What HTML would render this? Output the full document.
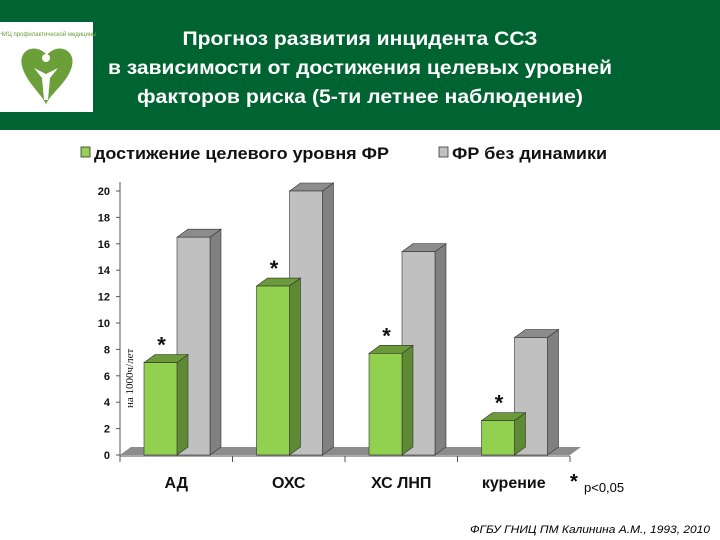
<!DOCTYPE html>
<html><head><meta charset="utf-8">
<style>
body{margin:0;background:#fff;}
svg{display:block;font-family:"Liberation Sans",Arial,sans-serif;}
</style></head>
<body>
<svg id="c" width="720" height="540" viewBox="0 0 720 540" xmlns="http://www.w3.org/2000/svg">
<rect x="0" y="0" width="720" height="130" fill="#006432"/>
<g>
<rect x="0" y="22" width="93" height="90" fill="#fff"/>
<path d="M47 55 C35 42,18 50,22 66 C26 82,40 92,46 104 C52 92,68 82,72 66 C76 50,58 42,47 55Z" fill="#6a9f3a"/>
<circle cx="46" cy="58" r="4" fill="#fff"/>
<path d="M34 68 L46 74 L58 68 L50 78 L48 100 L44 100 L42 78Z" fill="#fff"/>
<text x="46" y="36" font-size="6" fill="#6a9f3a" text-anchor="middle">ГНИЦ профилактической медицины</text>
</g>
<g fill="#fff" font-size="19" font-weight="bold" text-anchor="middle">
<text x="360" y="45" textLength="355" lengthAdjust="spacingAndGlyphs">Прогноз  развития  инцидента ССЗ</text>
<text x="360" y="74" textLength="504" lengthAdjust="spacingAndGlyphs">в зависимости от  достижения целевых уровней</text>
<text x="360" y="103" textLength="446" lengthAdjust="spacingAndGlyphs">факторов риска  (5-ти летнее наблюдение)</text>
</g>
<g font-size="17" font-weight="bold" fill="#111">
<rect x="81" y="147" width="9" height="10" fill="#92d050" stroke="#333" stroke-width="0.8"/>
<text x="94" y="159" textLength="295" lengthAdjust="spacingAndGlyphs">достижение целевого уровня ФР</text>
<rect x="439" y="147" width="9" height="10" fill="#c0c0c0" stroke="#333" stroke-width="0.8"/>
<text x="452" y="159" textLength="155" lengthAdjust="spacingAndGlyphs">ФР без динамики</text>
</g>
<g id="plot"></g>
<text transform="translate(133,408) rotate(-90)" font-size="11" font-family="'Liberation Serif',serif" fill="#111">на 1000ч/лет</text>
<text x="570" y="488" font-size="20" font-weight="bold">*</text>
<text x="584" y="492" font-size="13">p&lt;0,05</text>
<text x="470" y="533" font-size="11" font-style="italic" textLength="240" lengthAdjust="spacingAndGlyphs">ФГБУ ГНИЦ ПМ Калинина А.М., 1993, 2010</text>
</svg>
<script>
const categories=["АД","ОХС","ХС ЛНП","курение"];
const targetValues=[7,12.8,7.7,2.6];
const noDynValues=[16.5,20,15.4,8.9];
const significant=[true,true,true,true];
const yTicks=[0,2,4,6,8,10,12,14,16,18,20];
const NS="http://www.w3.org/2000/svg";
const g=document.getElementById('plot');
const x0=120,catW=112.5,y0=455,yTop=191,yMax=20,dx=11,dy=8,bw=33;
const y=v=>y0-(y0-yTop)*v/yMax;
const cx=i=>x0+i*catW;
function mk(t,a,p){const e=document.createElementNS(NS,t);for(const k in a)e.setAttribute(k,a[k]);(p||g).appendChild(e);return e;}
let fl=mk('polygon',{points:`${x0},${y0} ${x0+dx},${y0-dy} ${x0+4*catW+dx},${y0-dy} ${x0+4*catW},${y0}`,fill:'#8c8c8c'});


let ax=mk('line',{x1:x0,y1:y0-dy-265,x2:x0,y2:y0+1,stroke:'#555'});


let xa=mk('line',{x1:x0,y1:y0+1,x2:x0+4*catW,y2:y0+1,stroke:'#555'});


yTicks.forEach(t=>{
 let tk=mk('line',{x1:x0-4,y1:y(t),x2:x0,y2:y(t),stroke:'#555'});
 
 
 let tl=mk('text',{x:x0-10,y:y(t)+4,'font-size':11,'font-weight':'bold','text-anchor':'end',fill:'#111'});
 tl.textContent=t;
 
 
});
for(let i=0;i<=4;i++){
 let tk=mk('line',{x1:cx(i),y1:y0+1,x2:cx(i),y2:y0+7,stroke:'#555'});
 
 
}
function bar(x,v,front,top,side,name){
 const b=mk('g',{});
 
 
 const yt=y(v);
 mk('polygon',{points:`${x+bw},${y0} ${x+bw+dx},${y0-dy} ${x+bw+dx},${yt-dy} ${x+bw},${yt}`,fill:side,stroke:'#333','stroke-width':0.6},b);
 mk('polygon',{points:`${x},${yt} ${x+dx},${yt-dy} ${x+bw+dx},${yt-dy} ${x+bw},${yt}`,fill:top,stroke:'#333','stroke-width':0.6},b);
 mk('rect',{x:x,y:yt,width:bw,height:y0-yt,fill:front,stroke:'#333','stroke-width':0.6},b);
}
categories.forEach((c,i)=>{
 const bx=cx(i)+24;
 bar(bx+bw,noDynValues[i],'#c0c0c0','#8c8c8c','#808080','bar-nodynamics-'+i);
 bar(bx,targetValues[i],'#92d050','#6a9a3a','#5f8a34','bar-target-'+i);
 if(significant[i]){
  let s=mk('text',{x:bx+bw/2+1,y:y(targetValues[i])-dy-2,'font-size':22,'font-weight':'bold','text-anchor':'middle',fill:'#111'});
  s.textContent='*';
  
  
 }
 let l=mk('text',{x:cx(i)+catW/2,y:488,'font-size':16,'font-weight':'bold','text-anchor':'middle',fill:'#111'});
 l.textContent=c;
 
 
});
</script>
</body></html>
